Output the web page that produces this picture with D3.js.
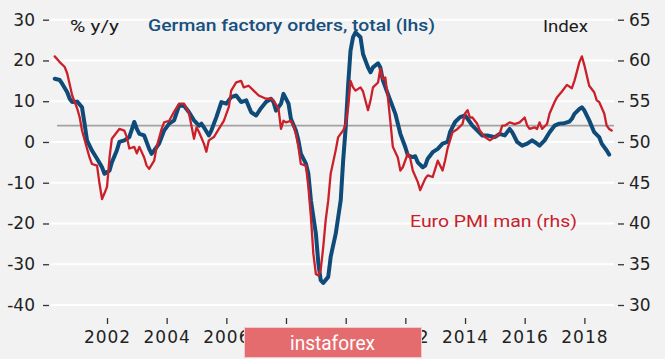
<!DOCTYPE html>
<html><head><meta charset="utf-8">
<script src="https://cdn.jsdelivr.net/npm/d3@7"></script>
<style>html,body{margin:0;padding:0;background:#f2f2f2;} svg{display:block}</style>
</head><body><svg id="chart" width="665" height="359"></svg>
<script>
// German factory orders, total, % y/y (left axis)
const ordersDates = ["2000-04","2000-06","2000-07","2000-09","2000-10","2000-11","2001-01","2001-03","2001-04","2001-05","2001-07","2001-09","2001-11","2001-12","2002-02","2002-03","2002-05","2002-06","2002-08","2002-10","2002-12","2003-01","2003-02","2003-04","2003-06","2003-07","2003-08","2003-10","2003-12","2004-02","2004-04","2004-06","2004-08","2004-10","2004-12","2005-02","2005-03","2005-04","2005-06","2005-07","2005-09","2005-11","2006-01","2006-03","2006-05","2006-07","2006-09","2006-11","2007-01","2007-03","2007-05","2007-07","2007-08","2007-09","2007-11","2007-12","2008-02","2008-03","2008-05","2008-06","2008-07","2008-09","2008-10","2008-11","2009-01","2009-02","2009-03","2009-04","2009-06","2009-07","2009-09","2009-11","2009-12","2010-01","2010-02","2010-03","2010-04","2010-05","2010-07","2010-08","2010-10","2010-11","2010-12","2011-02","2011-03","2011-04","2011-06","2011-07","2011-09","2011-11","2012-01","2012-02","2012-04","2012-05","2012-06","2012-08","2012-09","2012-10","2012-12","2013-02","2013-04","2013-06","2013-07","2013-09","2013-11","2014-01","2014-02","2014-04","2014-06","2014-08","2014-10","2015-01","2015-03","2015-05","2015-07","2015-08","2015-10","2015-12","2016-02","2016-04","2016-05","2016-07","2016-09","2016-11","2017-01","2017-03","2017-05","2017-07","2017-08","2017-09","2017-11","2017-12","2018-01","2018-03","2018-05","2018-07","2018-08","2018-10","2018-11"];
const ordersValues = [15.5,15.2,14.3,12.2,10.6,9.8,9.9,8.5,4.5,0.4,-2.1,-4.1,-6.2,-7.8,-7.0,-5.0,-2.1,0,0.4,1.2,4.9,3.2,2.0,1.6,-1.7,-2.9,-2.1,-0.4,2.8,4.5,5.3,8.9,8.9,7.3,5.3,4.0,4.5,3.6,1.6,2.8,6.1,9.8,9.4,11.0,11.4,9.8,10.2,7.3,6.5,8.3,9.8,10.6,9.8,7.7,9.4,11.8,9.4,5.7,2.8,0.4,-2.9,-5.3,-7.8,-14.3,-22.5,-29.9,-33.9,-34.6,-33.1,-28.2,-22.5,-14.3,-4.5,3.6,14.3,22.4,25.7,26.9,25.7,21.6,18.3,17.1,18.3,19.3,18.3,15.1,11.8,10.2,6.9,2.0,-1.3,-3.3,-3.7,-3.5,-5.0,-6.2,-5.8,-4.1,-2.5,-1.7,-0.4,0,2.4,4.9,6.1,6.5,5.7,4.0,2.8,1.6,1.6,1.2,2.0,1.6,3.2,2.4,0,-0.9,-0.4,0.4,0,-0.9,0.4,2.4,4.0,4.5,4.6,5.0,5.7,6.9,8.1,8.5,7.7,5.3,2.4,1.2,-0.4,-2.1,-3.1];

// Euro area manufacturing PMI, index (right axis)
const pmiDates = ["2000-04","2000-06","2000-08","2000-09","2000-11","2001-01","2001-02","2001-03","2001-05","2001-06","2001-07","2001-09","2001-10","2001-11","2001-12","2002-01","2002-02","2002-03","2002-06","2002-08","2002-09","2002-10","2002-12","2003-01","2003-02","2003-04","2003-05","2003-06","2003-08","2003-09","2003-11","2003-12","2004-02","2004-04","2004-06","2004-08","2004-10","2004-12","2005-01","2005-02","2005-04","2005-05","2005-06","2005-08","2005-10","2005-12","2006-02","2006-03","2006-05","2006-07","2006-08","2006-10","2006-12","2007-02","2007-05","2007-07","2007-08","2007-10","2007-11","2007-12","2008-01","2008-03","2008-04","2008-05","2008-06","2008-07","2008-09","2008-10","2008-11","2008-12","2009-01","2009-02","2009-03","2009-04","2009-05","2009-06","2009-07","2009-09","2009-10","2009-12","2010-01","2010-02","2010-03","2010-04","2010-05","2010-07","2010-08","2010-10","2010-11","2010-12","2011-02","2011-03","2011-04","2011-05","2011-06","2011-07","2011-08","2011-10","2011-11","2011-12","2012-02","2012-03","2012-04","2012-06","2012-07","2012-09","2012-10","2012-12","2013-01","2013-02","2013-04","2013-05","2013-06","2013-08","2013-10","2013-12","2014-01","2014-02","2014-03","2014-04","2014-06","2014-07","2014-09","2014-11","2015-01","2015-03","2015-04","2015-05","2015-07","2015-09","2015-11","2016-01","2016-02","2016-03","2016-05","2016-06","2016-07","2016-08","2016-10","2016-11","2017-01","2017-02","2017-04","2017-06","2017-08","2017-09","2017-10","2017-11","2017-12","2018-01","2018-03","2018-05","2018-06","2018-07","2018-09","2018-10","2018-11","2018-12"];
const pmiValues = [60.5,59.8,59.2,58.4,55.7,54.1,53.0,51.4,49.2,48.1,47.3,47.1,44.9,43.0,43.7,44.5,48.1,50.4,51.6,51.4,50.6,49.2,49.4,48.6,49.4,48.1,47.1,46.7,47.7,49.4,51.6,52.4,52.6,53.7,54.7,54.7,53.5,50.4,51.8,51.2,49.8,48.8,50.2,50.6,51.6,52.6,54.3,56.3,57.3,57.5,56.7,56.9,56.3,55.7,55.3,55.3,55.1,54.1,51.6,52.6,52.4,52.6,52.0,51.0,49.4,47.3,47.1,44.5,40.8,36.3,33.8,33.6,34.3,37.1,40.4,42.8,46.1,49.0,50.6,51.4,52.2,54.3,57.5,56.7,56.3,56.7,56.2,53.9,55.1,56.7,57.3,59.0,57.7,57.9,55.5,52.6,49.4,48.1,46.5,46.9,48.6,48.0,46.5,45.1,44.1,45.5,45.9,45.7,46.7,47.7,46.5,47.7,49.2,51.2,51.6,52.2,53.5,53.9,53.0,53.0,52.2,51.4,50.6,50.2,50.6,51.0,52.0,52.0,52.4,52.2,52.4,53.0,52.0,51.6,51.8,51.6,52.4,51.6,52.2,53.5,54.9,55.5,56.2,57.0,56.6,57.5,58.6,59.8,60.5,59.4,56.9,56.1,55.1,54.9,53.5,52.0,51.6,51.4];

const leftTicks = [30,20,10,0,-10,-20,-30,-40];
const rightTicks = [65,60,55,50,45,40,35,30];
const yearTicks = [2002,2004,2006,2008,2010,2012,2014,2016,2018];
const pmiRefLevel = 52;

const svg = d3.select("#chart");
const parse = d3.timeParse("%Y-%m");
const orders = ordersDates.map((d,i)=>({date:parse(d), value:ordersValues[i]}));
const pmi = pmiDates.map((d,i)=>({date:parse(d), value:pmiValues[i]}));

const x = d3.scaleTime().domain([new Date(2000,0,1), new Date(2019,0,1)]).range([47.3, 614.2]);
const yL = d3.scaleLinear().domain([-40,30]).range([305,19.7]);
const yR = d3.scaleLinear().domain([30,65]).range([305,19.7]);

svg.append("rect").attr("width",665).attr("height",359).attr("fill","#f2f2f2");

// grid
svg.append("g").selectAll("line").data(leftTicks).join("line")
  .attr("x1",51).attr("x2",614).attr("y1",d=>yL(d)).attr("y2",d=>yL(d))
  .attr("stroke","#ffffff").attr("stroke-width",2);

// reference line
svg.append("line").attr("x1",57).attr("x2",614)
  .attr("y1",yR(pmiRefLevel)).attr("y2",yR(pmiRefLevel))
  .attr("stroke","#a2a2a2").attr("stroke-width",1.6);

const tickFont = "'DejaVu Sans', sans-serif";
function styleAxis(g){
  g.select(".domain").remove();
  g.selectAll(".tick line").attr("stroke","#333").attr("stroke-width",1.3);
  g.selectAll(".tick text").attr("fill","#222").style("font-family",tickFont).style("font-size","17px");
}

svg.append("g").attr("transform","translate(49,0)")
  .call(d3.axisLeft(yL).tickValues(leftTicks).tickSize(6).tickPadding(8).tickFormat(d=>String(d)))
  .call(styleAxis);

svg.append("g").attr("transform","translate(618,0)")
  .call(d3.axisRight(yR).tickValues(rightTicks).tickSize(6).tickPadding(5).tickFormat(d=>String(d)))
  .call(styleAxis);

svg.append("g").attr("transform","translate(0,318)")
  .call(d3.axisBottom(x).tickValues(yearTicks.map(y=>new Date(y,0,1))).tickFormat(d3.timeFormat("%Y")).tickSize(6).tickPadding(7))
  .call(styleAxis)
  .call(g=>g.selectAll(".tick text").style("letter-spacing","1px"));

// lines
const lineL = d3.line().x(d=>x(d.date)).y(d=>yL(d.value));
const lineR = d3.line().x(d=>x(d.date)).y(d=>yR(d.value));

svg.append("path").datum(orders).attr("d",lineL).attr("fill","none")
  .attr("stroke","#0f4b79").attr("stroke-width",4).attr("stroke-linejoin","round").attr("stroke-linecap","round");
svg.append("path").datum(pmi).attr("d",lineR).attr("fill","none")
  .attr("stroke","#cb2029").attr("stroke-width",2.3).attr("stroke-linejoin","round").attr("stroke-linecap","round");

// labels
const labFont = "Roboto, sans-serif";
svg.append("text").attr("x",70).attr("y",32).attr("textLength",49).attr("lengthAdjust","spacingAndGlyphs")
  .style("font-family",labFont).style("font-size","17px").attr("fill","#1a1a1a").text("% y/y");
svg.append("text").attr("x",148).attr("y",31).attr("textLength",287).attr("lengthAdjust","spacingAndGlyphs")
  .style("font-family",labFont).style("font-size","17px").style("font-weight","500").attr("fill","#17507e")
  .text("German factory orders, total (lhs)");
svg.append("text").attr("x",543).attr("y",32).attr("textLength",45).attr("lengthAdjust","spacingAndGlyphs")
  .style("font-family",labFont).style("font-size","17px").attr("fill","#1a1a1a").text("Index");
svg.append("text").attr("x",410).attr("y",227).attr("textLength",167).attr("lengthAdjust","spacingAndGlyphs")
  .style("font-family",labFont).style("font-size","17px").attr("fill","#c8202b").text("Euro PMI man (rhs)");

// watermark
svg.append("rect").attr("x",244.5).attr("y",327.5).attr("width",177).attr("height",30)
  .attr("fill","#e46c6e").attr("stroke","#f4c9c9").attr("stroke-width",1);
svg.append("text").attr("x",290).attr("y",350).attr("textLength",85).attr("lengthAdjust","spacingAndGlyphs")
  .style("font-family",labFont).style("font-size","20px").attr("fill","#ffffff").text("instaforex");
</script>
</body></html>
